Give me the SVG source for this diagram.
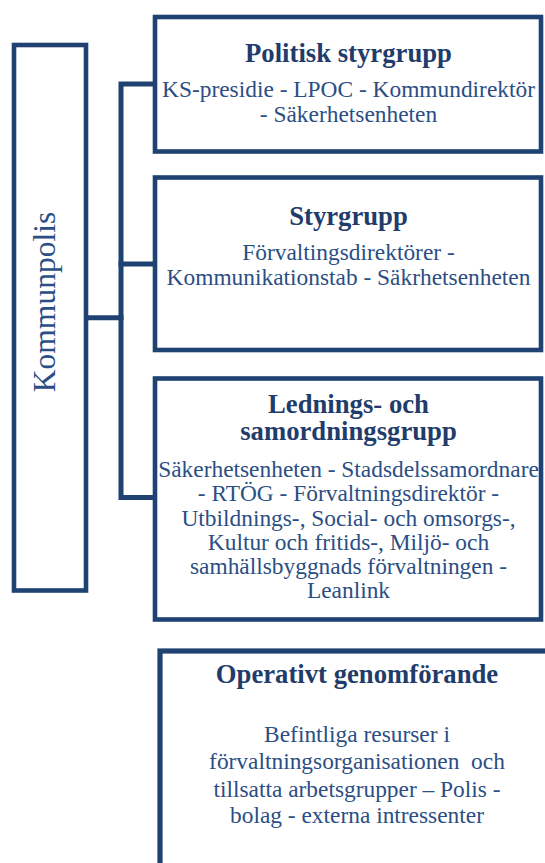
<svg xmlns="http://www.w3.org/2000/svg" width="545" height="863" viewBox="0 0 545 863">
<style>
.box{fill:#ffffff;stroke:#1F4273;stroke-width:4.6;stroke-linejoin:miter}
.conn{fill:none;stroke:#1F4273;stroke-width:5;stroke-linejoin:miter;stroke-linecap:square}
.t{font-family:"Liberation Serif","Times New Roman",serif;font-weight:bold;font-size:26.7px;fill:#1F3C6B;text-anchor:middle}
.b{font-family:"Liberation Serif","Times New Roman",serif;font-size:23.4px;fill:#2B4E84;text-anchor:middle}
.k{font-family:"Liberation Serif","Times New Roman",serif;font-size:31.5px;fill:#2B4E84;text-anchor:middle}
</style>
<rect width="545" height="863" fill="#ffffff"/>
<g id="connectors">
<path class="conn" d="M155,84 H121 V497.5 H155"/>
<path class="conn" d="M121,264 H155"/>
<path class="conn" d="M86,317.7 H121"/>
</g>
<g id="kommunpolis">
<rect class="box" x="14" y="45" width="72" height="545.5"/>
<text class="k" transform="translate(55,302) rotate(-90)" x="0" y="0">Kommunpolis</text>
</g>
<g id="politisk-styrgrupp">
<rect class="box" x="155" y="17" width="386" height="134.5"/>
<text class="t" x="348.5" y="62">Politisk styrgrupp</text>
<text class="b" x="348.5" y="97">KS-presidie - LPOC - Kommundirektör</text>
<text class="b" x="348.5" y="122">- Säkerhetsenheten</text>
</g>
<g id="styrgrupp">
<rect class="box" x="155" y="177.5" width="386" height="172.5"/>
<text class="t" x="348.5" y="225">Styrgrupp</text>
<text class="b" x="348.5" y="260">Förvaltingsdirektörer -</text>
<text class="b" x="348.5" y="285">Kommunikationstab - Säkrhetsenheten</text>
</g>
<g id="lednings-samordningsgrupp">
<rect class="box" x="155" y="378.5" width="386" height="241"/>
<text class="t" x="348.5" y="413">Lednings- och</text>
<text class="t" x="348.5" y="440">samordningsgrupp</text>
<text class="b" x="348.5" y="477">Säkerhetsenheten - Stadsdelssamordnare</text>
<text class="b" x="348.5" y="501">- RTÖG - Förvaltningsdirektör -</text>
<text class="b" x="348.5" y="525.5">Utbildnings-, Social- och omsorgs-,</text>
<text class="b" x="348.5" y="549.5">Kultur och fritids-, Miljö- och</text>
<text class="b" x="348.5" y="574">samhällsbyggnads förvaltningen -</text>
<text class="b" x="348.5" y="598">Leanlink</text>
</g>
<g id="operativt-genomforande">
<rect class="box" x="160" y="651" width="400" height="230" style="stroke-width:5.2"/>
<text class="t" x="357" y="683">Operativt genomförande</text>
<text class="b" x="357" y="742" xml:space="preserve">Befintliga resurser i</text>
<text class="b" x="357" y="768.5" xml:space="preserve">förvaltningsorganisationen  och</text>
<text class="b" x="357" y="796.5">tillsatta arbetsgrupper – Polis -</text>
<text class="b" x="357" y="823">bolag - externa intressenter</text>
</g>
</svg>
